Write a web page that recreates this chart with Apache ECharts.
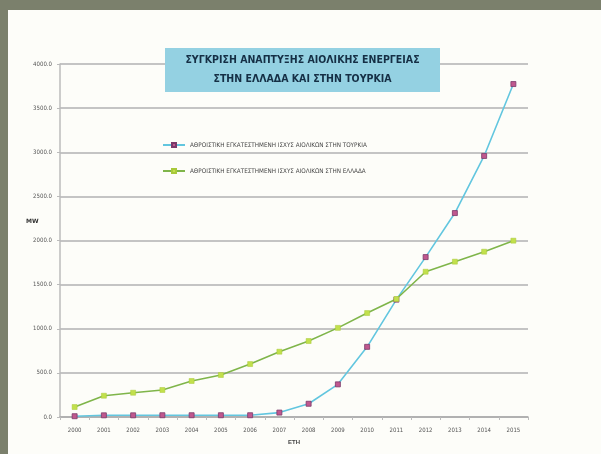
<!DOCTYPE html>
<html>
<head>
<meta charset="utf-8">
<script src="https://cdn.jsdelivr.net/npm/echarts@6/dist/echarts.min.js"></script>
<style>
html,body{margin:0;padding:0;background:#7b806c;}
#c{width:601px;height:454px;}
</style>
</head>
<body>
<div id="c"></div>
<script>
var years = ['2000','2001','2002','2003','2004','2005','2006','2007','2008','2009','2010','2011','2012','2013','2014','2015'];
var turkey = [9, 19, 19, 20, 20, 20, 20, 50, 150, 370, 795, 1330, 1812, 2311, 2958, 3773];
var greece = [113, 241, 275, 306, 408, 476, 600, 740, 861, 1010, 1178, 1337, 1646, 1760, 1873, 1998];
var yTicks = [0, 500, 1000, 1500, 2000, 2500, 3000, 3500, 4000];
var seriesNames = ['ΑΘΡΟΙΣΤΙΚΗ ΕΓΚΑΤΕΣΤΗΜΕΝΗ ΙΣΧΥΣ ΑΙΟΛΙΚΩΝ ΣΤΗΝ ΤΟΥΡΚΙΑ',
                   'ΑΘΡΟΙΣΤΙΚΗ ΕΓΚΑΤΕΣΤΗΜΕΝΗ ΙΣΧΥΣ ΑΙΟΛΙΚΩΝ ΣΤΗΝ ΕΛΛΑΔΑ'];
var titleLines = ['ΣΥΓΚΡΙΣΗ ΑΝΑΠΤΥΞΗΣ ΑΙΟΛΙΚΗΣ ΕΝΕΡΓΕΙΑΣ', 'ΣΤΗΝ ΕΛΛΑΔΑ ΚΑΙ ΣΤΗΝ ΤΟΥΡΚΙΑ'];

var chart = echarts.init(document.getElementById('c'), null, {renderer:'canvas'});
var labelFont = {fontSize: 6, color: '#555', fontFamily: 'DejaVu Sans Condensed'};
chart.setOption({
  backgroundColor: '#7b806c',
  animation: false,
  graphic: [
    {type:'rect', z:-10, shape:{x:8, y:10, width:601, height:454}, style:{fill:'#fdfdf9'}},
    {type:'rect', z:100, shape:{x:165, y:48, width:275, height:44}, style:{fill:'#94d1e2'}},
    {type:'text', z:101, x:302.5, y:60, style:{text:titleLines[0], align:'center', verticalAlign:'middle',
      font:'bold 10.5px "DejaVu Sans Condensed"', fill:'#152f45'}},
    {type:'text', z:101, x:302.5, y:79, style:{text:titleLines[1], align:'center', verticalAlign:'middle',
      font:'bold 10.5px "DejaVu Sans Condensed"', fill:'#152f45'}},
    {type:'text', z:101, x:26, y:218, style:{text:'MW', font:'bold 6px "DejaVu Sans"', fill:'#333'}}
  ],
  legend: {
    orient: 'vertical', left: 157, top: 137, itemGap: 20, itemWidth: 22, itemHeight: 5,
    textStyle: {fontSize: 6.3, color: '#444', fontFamily: 'DejaVu Sans Condensed'},
    data: seriesNames
  },
  grid: {left: 60, right: 73, top: 64, bottom: 37},
  xAxis: {
    type: 'category', data: years, boundaryGap: true,
    name: 'ΕΤΗ', nameLocation: 'middle', nameGap: 22,
    nameTextStyle: {fontSize: 6, color: '#444', fontWeight: 'bold'},
    axisLine: {lineStyle: {color: '#aaa', width: 1.5}},
    axisTick: {show: true, lineStyle: {color: '#bbb'}, length: 3},
    axisLabel: Object.assign({margin: 10, interval: 0}, labelFont)
  },
  yAxis: {
    type: 'value', min: 0, max: 4000, interval: 500,
    axisLine: {show: true, lineStyle: {color: '#bbb', width: 1.5}},
    axisTick: {show: true, lineStyle: {color: '#bbb'}, length: 3},
    splitLine: {lineStyle: {color: '#c4c4c4', width: 1.8}},
    axisLabel: Object.assign({margin: 8, formatter: function(v){return v.toFixed(1);}}, labelFont)
  },
  series: [
    {name: seriesNames[0], type: 'line', data: turkey, symbol: 'rect', symbolSize: 5,
     lineStyle: {color: '#62c6df', width: 1.6},
     itemStyle: {color: '#c0588e', borderColor: '#7a3a6a', borderWidth: 0.8}},
    {name: seriesNames[1], type: 'line', data: greece, symbol: 'rect', symbolSize: 5,
     lineStyle: {color: '#7fb54a', width: 1.6},
     itemStyle: {color: '#c2e04c', borderColor: '#a8c93a', borderWidth: 0.5}}
  ]
});
</script>
</body>
</html>
